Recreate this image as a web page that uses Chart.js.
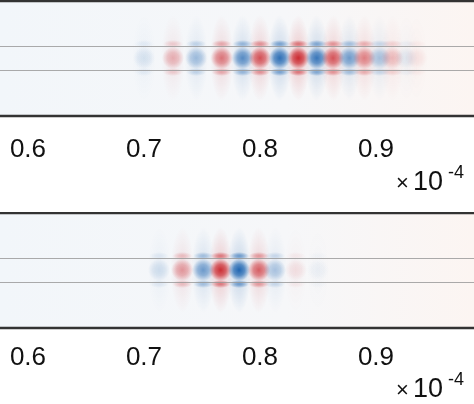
<!DOCTYPE html>
<html><head><meta charset="utf-8">
<script src="https://cdn.jsdelivr.net/npm/chart.js@4/dist/chart.umd.min.js"></script>
<style>
body{margin:0;background:#fff;width:474px;height:404px;overflow:hidden;position:relative;font-family:Arial,"Liberation Sans",sans-serif}
.w{position:absolute;left:0;width:474px}
</style></head><body>
<div class="w" style="top:0;height:212px"><canvas id="c1"></canvas></div>
<div class="w" style="top:212px;height:192px"><canvas id="c2"></canvas></div>
<script>
// tick labels
const tickValues = [0.6, 0.7, 0.8, 0.9];
// panel 1 wave packet: blob centres (x, units of 1e-4) and signed amplitudes
const pos1 = [0.7, 0.725, 0.745, 0.767, 0.785, 0.80, 0.817, 0.833, 0.849, 0.863, 0.877, 0.89, 0.903, 0.914, 0.926, 0.935];
const amp1 = [-0.12, 0.3, -0.35, 0.55, -0.65, 0.72, -0.85, 0.92, -0.8, 0.7, -0.55, 0.5, -0.32, 0.25, -0.1, 0.08];
// panel 2 wave packet
const pos2 = [0.713, 0.733, 0.751, 0.766, 0.782, 0.799, 0.813, 0.831, 0.85];
const amp2 = [-0.15, 0.4, -0.55, 0.9, -0.92, 0.65, -0.3, 0.1, -0.05];

const XMIN = 0.5759, XMAX = 0.9845;
const cache = {};
function blob(a){
  const key = a.toFixed(3);
  if(cache[key]) return cache[key];
  const c = document.createElement('canvas'); c.width = 30; c.height = 110;
  const g = c.getContext('2d');
  const col = a > 0 ? [200,28,35] : [18,92,172];
  const m = Math.abs(a);
  function el(cy, sy, r, al, mid){
    g.save(); g.translate(15, cy); g.scale(1, sy);
    const gr = g.createRadialGradient(0,0,0,0,0,r);
    gr.addColorStop(0, `rgba(${col},${al})`);
    gr.addColorStop(mid, `rgba(${col},${al*0.7})`);
    gr.addColorStop(1, `rgba(${col},0)`);
    g.fillStyle = gr; g.beginPath(); g.arc(0,0,r,0,Math.PI*2); g.fill(); g.restore();
  }
  el(55, 3.6, 12, m*0.22, 0.4);
  el(55, 1.0, 11, m*1.0, 0.5);
  el(41, 0.4, 10, m*0.6, 0.4);
  el(69, 0.4, 10, m*0.6, 0.4);
  cache[key] = c; return c;
}
function makeChart(id, pos, amp, axisH, pad, xy){
  const data = pos.map((x,i)=>({x, y:0}));
  return new Chart(document.getElementById(id), {
    type:'scatter',
    data:{datasets:[{data, clip:false, pointStyle:(ctx)=>blob(amp[ctx.dataIndex]), pointRadius:10, pointHoverRadius:10}]},
    options:{
      responsive:true, maintainAspectRatio:false, animation:false,
      layout:{padding:0, autoPadding:false},
      plugins:{legend:{display:false}, tooltip:{enabled:false}},
      events:[],
      scales:{
        x:{type:'linear', min:XMIN, max:XMAX, grid:{display:false}, border:{display:false},
           afterBuildTicks:(s)=>{s.ticks = tickValues.map(v=>({value:v}));},
           afterFit:(s)=>{s.height = axisH; s.paddingLeft=0; s.paddingRight=0; s.paddingTop=0; s.paddingBottom=0;},
           ticks:{padding:pad, color:'#111', font:{size:26, family:'Arial'}, callback:v=>v.toFixed(1), maxRotation:0}},
        y:{display:false, min:-1, max:1}
      }
    },
    plugins:[{
      id:'bg',
      beforeDatasetsDraw(ch){
        const {ctx, chartArea:a} = ch;
        const gr = ctx.createLinearGradient(a.left,0,a.right,0);
        gr.addColorStop(0,'#f2f6fa'); gr.addColorStop(0.6,'#f6f7f9'); gr.addColorStop(1,'#fcf5f2');
        ctx.fillStyle = gr; ctx.fillRect(a.left,a.top,a.right-a.left,a.bottom-a.top);
      },
      afterDatasetsDraw(ch){
        const {ctx, chartArea:a, scales:{y}} = ch;
        ctx.save();
        ctx.strokeStyle = 'rgba(150,150,150,0.8)'; ctx.lineWidth = 1;
        [0.2,-0.2].forEach(v=>{const yy=Math.round(y.getPixelForValue(v))+0.5; ctx.beginPath(); ctx.moveTo(a.left,yy); ctx.lineTo(a.right,yy); ctx.stroke();});
        ctx.strokeStyle = '#333'; ctx.lineWidth = 2.5;
        [a.top+1, a.bottom].forEach(yy=>{ctx.beginPath(); ctx.moveTo(a.left,yy); ctx.lineTo(a.right,yy); ctx.stroke();});
        ctx.fillStyle = '#111'; ctx.textBaseline = 'alphabetic';
        ctx.font = '22px Arial'; ctx.fillText('\u00d7', 396, xy);
        ctx.font = '27px Arial'; ctx.fillText('10', 413, xy);
        ctx.font = '18px Arial'; ctx.fillText('-4', 448, xy-12);
        ctx.restore();
      }
    }]
  });
}
makeChart('c1', pos1, amp1, 96, 10, 190);
makeChart('c2', pos2, amp2, 76, 6, 185);
</script></body></html>
